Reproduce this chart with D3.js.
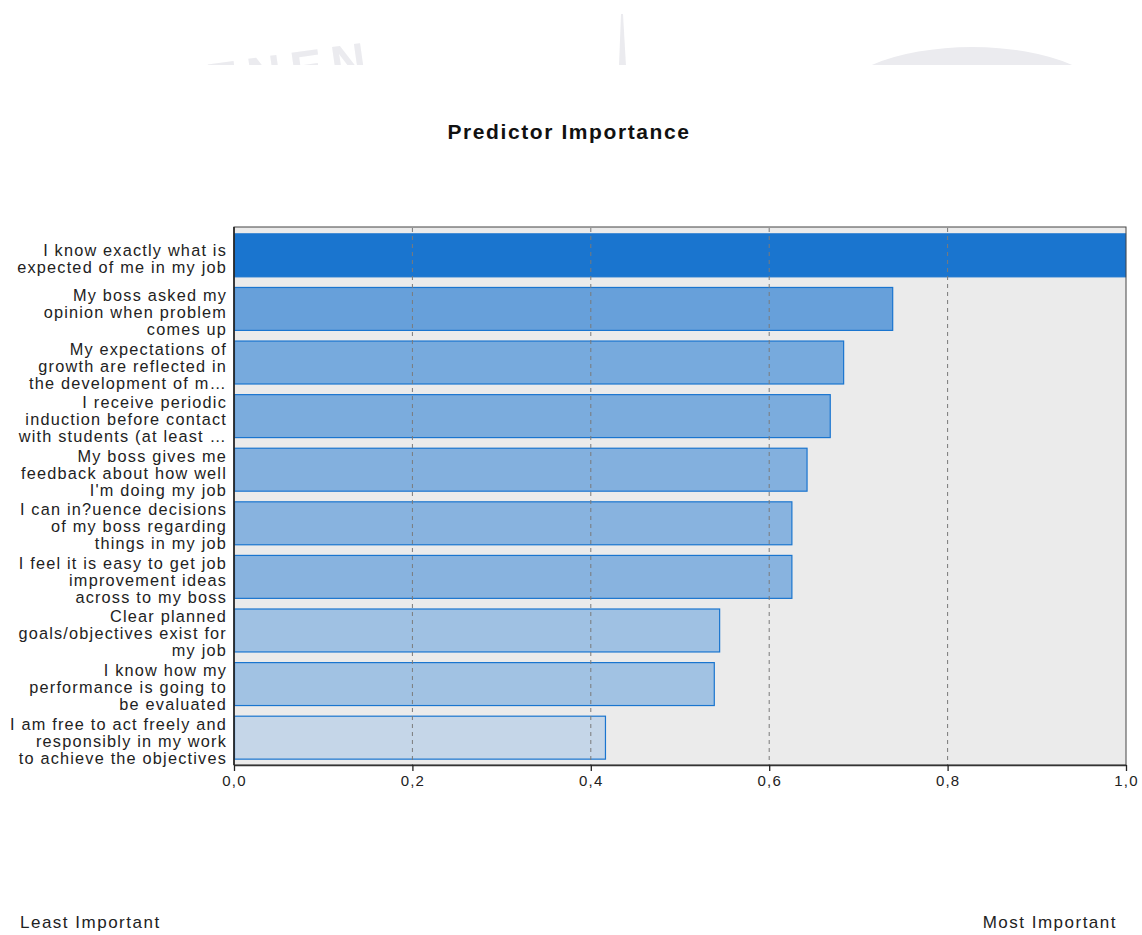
<!DOCTYPE html>
<html>
<head>
<meta charset="utf-8">
<script src="https://cdn.jsdelivr.net/npm/d3@7/dist/d3.min.js"></script>
<style>
  html, body { margin: 0; padding: 0; background: #fff; }
  svg { display: block; }
  text { font-family: "Liberation Sans", Arial, sans-serif; }
</style>
</head>
<body>
<svg id="chart" width="1142" height="935"></svg>
<script>
// ---- data ----
const categories = [
  ["I know exactly what is", "expected of me in my job"],
  ["My boss asked my", "opinion when problem", "comes up"],
  ["My expectations of", "growth are reflected in", "the development of m\u2026"],
  ["I receive periodic", "induction before contact", "with students (at least \u2026"],
  ["My boss gives me", "feedback about how well", "I'm doing my job"],
  ["I can in?uence decisions", "of my boss regarding", "things in my job"],
  ["I feel it is easy to get job", "improvement ideas", "across to my boss"],
  ["Clear planned", "goals/objectives exist for", "my job"],
  ["I know how my", "performance is going to", "be evaluated"],
  ["I am free to act freely and", "responsibly in my work", "to achieve the objectives"]
];
const importance = [1.0, 0.739, 0.684, 0.669, 0.643, 0.626, 0.626, 0.545, 0.539, 0.417];
const xTicks = [0, 0.2, 0.4, 0.6, 0.8, 1.0];
const gridTicks = [0.2, 0.4, 0.6, 0.8];
const titleText = "Predictor Importance";
const leastLabel = "Least Important";
const mostLabel = "Most Important";

// ---- layout ----
const svg = d3.select("#chart");
const plot = { left: 234, right: 1126, top: 227, bottom: 765 };

const x = d3.scaleLinear().domain([0, 1]).range([plot.left, plot.right]);
const y = d3.scaleBand()
  .domain(d3.range(categories.length))
  .range([plot.top + 1, plot.bottom])
  .paddingInner(0.18)
  .paddingOuter(0.1);
const color = d3.scaleLinear()
  .domain([d3.min(importance), d3.max(importance)])
  .range(["#c5d6e8", "#1a75cf"]);

// ---- watermark (faint, clipped) ----
const defs = svg.append("defs");
defs.append("clipPath").attr("id", "wmclip")
  .append("rect").attr("x", 0).attr("y", 0).attr("width", 1142).attr("height", 65);
const wm = svg.append("g").attr("clip-path", "url(#wmclip)").attr("fill", "#ebebef");
wm.append("ellipse").attr("cx", 972).attr("cy", 107).attr("rx", 140).attr("ry", 60);
wm.append("path").attr("d", "M619,66 L621,14 L623,14 L626,66 Z");
wm.append("text")
  .attr("x", 293).attr("y", 86)
  .attr("text-anchor", "middle")
  .attr("font-size", 48).attr("font-weight", "bold")
  .attr("letter-spacing", 9)
  .attr("transform", "rotate(-8,293,86)")
  .text("ENEN");

// ---- title ----
svg.append("text")
  .attr("x", 569).attr("y", 139)
  .attr("text-anchor", "middle")
  .attr("font-size", 21).attr("font-weight", "bold")
  .attr("fill", "#111")
  .attr("letter-spacing", 1.6)
  .text(titleText);

// ---- plot background ----
svg.append("rect")
  .attr("x", plot.left).attr("y", plot.top)
  .attr("width", plot.right - plot.left).attr("height", plot.bottom - plot.top)
  .attr("fill", "#ebebeb");

// ---- bars ----
svg.append("g").selectAll("rect")
  .data(importance)
  .join("rect")
  .attr("x", x(0) + 0.5)
  .attr("y", (d, i) => y(i) + 0.5)
  .attr("width", d => x(d) - x(0) - 1)
  .attr("height", y.bandwidth() - 1)
  .attr("fill", d => color(d))
  .attr("stroke", "#1a75cf")
  .attr("stroke-width", 1.2);

// ---- gridlines ----
svg.append("g").selectAll("line")
  .data(gridTicks)
  .join("line")
  .attr("x1", d => x(d)).attr("x2", d => x(d))
  .attr("y1", plot.top + 1).attr("y2", plot.bottom)
  .attr("stroke", "#7a7a7a")
  .attr("stroke-width", 1)
  .attr("stroke-dasharray", "4,4");

// ---- frame ----
svg.append("rect")
  .attr("x", plot.left).attr("y", plot.top)
  .attr("width", plot.right - plot.left).attr("height", plot.bottom - plot.top)
  .attr("fill", "none")
  .attr("stroke", "#444").attr("stroke-width", 1);
svg.append("line")
  .attr("x1", plot.left).attr("x2", plot.left)
  .attr("y1", plot.top).attr("y2", plot.bottom)
  .attr("stroke", "#222").attr("stroke-width", 1.6);

// ---- x axis ----
const axis = d3.axisBottom(x)
  .tickValues(xTicks)
  .tickSize(6)
  .tickSizeOuter(0)
  .tickFormat(d => d3.format(".1f")(d).replace(".", ","));
const ax = svg.append("g")
  .attr("transform", `translate(0,${plot.bottom})`)
  .call(axis);
ax.attr("font-size", 15).attr("font-family", "'Liberation Sans', Arial, sans-serif");
ax.select(".domain").attr("stroke", "#333").attr("stroke-width", 1.6);
ax.selectAll(".tick line").attr("stroke", "#222").attr("stroke-width", 1.3);
ax.selectAll(".tick text")
  .style("font-size", "15px")
  .attr("fill", "#222")
  .attr("letter-spacing", 1.2)
  .attr("dy", "0.8em");

// ---- y labels ----
const lineH = 17;
const lbl = svg.append("g");
categories.forEach((lines, i) => {
  const cy = y(i) + y.bandwidth() / 2;
  const n = lines.length;
  const t = lbl.append("text")
    .attr("text-anchor", "end")
    .attr("font-size", 16.3)
    .attr("letter-spacing", 1.2)
    .attr("fill", "#222");
  lines.forEach((ln, k) => {
    t.append("tspan")
      .attr("x", 227)
      .attr("y", cy + (k - (n - 1) / 2) * lineH + 9)
      .text(ln);
  });
});

// ---- bottom labels ----
svg.append("text")
  .attr("x", 20).attr("y", 928)
  .attr("font-size", 17).attr("fill", "#222")
  .attr("letter-spacing", 1.5)
  .text(leastLabel);
svg.append("text")
  .attr("x", 1117).attr("y", 928)
  .attr("text-anchor", "end")
  .attr("font-size", 17).attr("fill", "#222")
  .attr("letter-spacing", 1.5)
  .text(mostLabel);
</script>
</body>
</html>
